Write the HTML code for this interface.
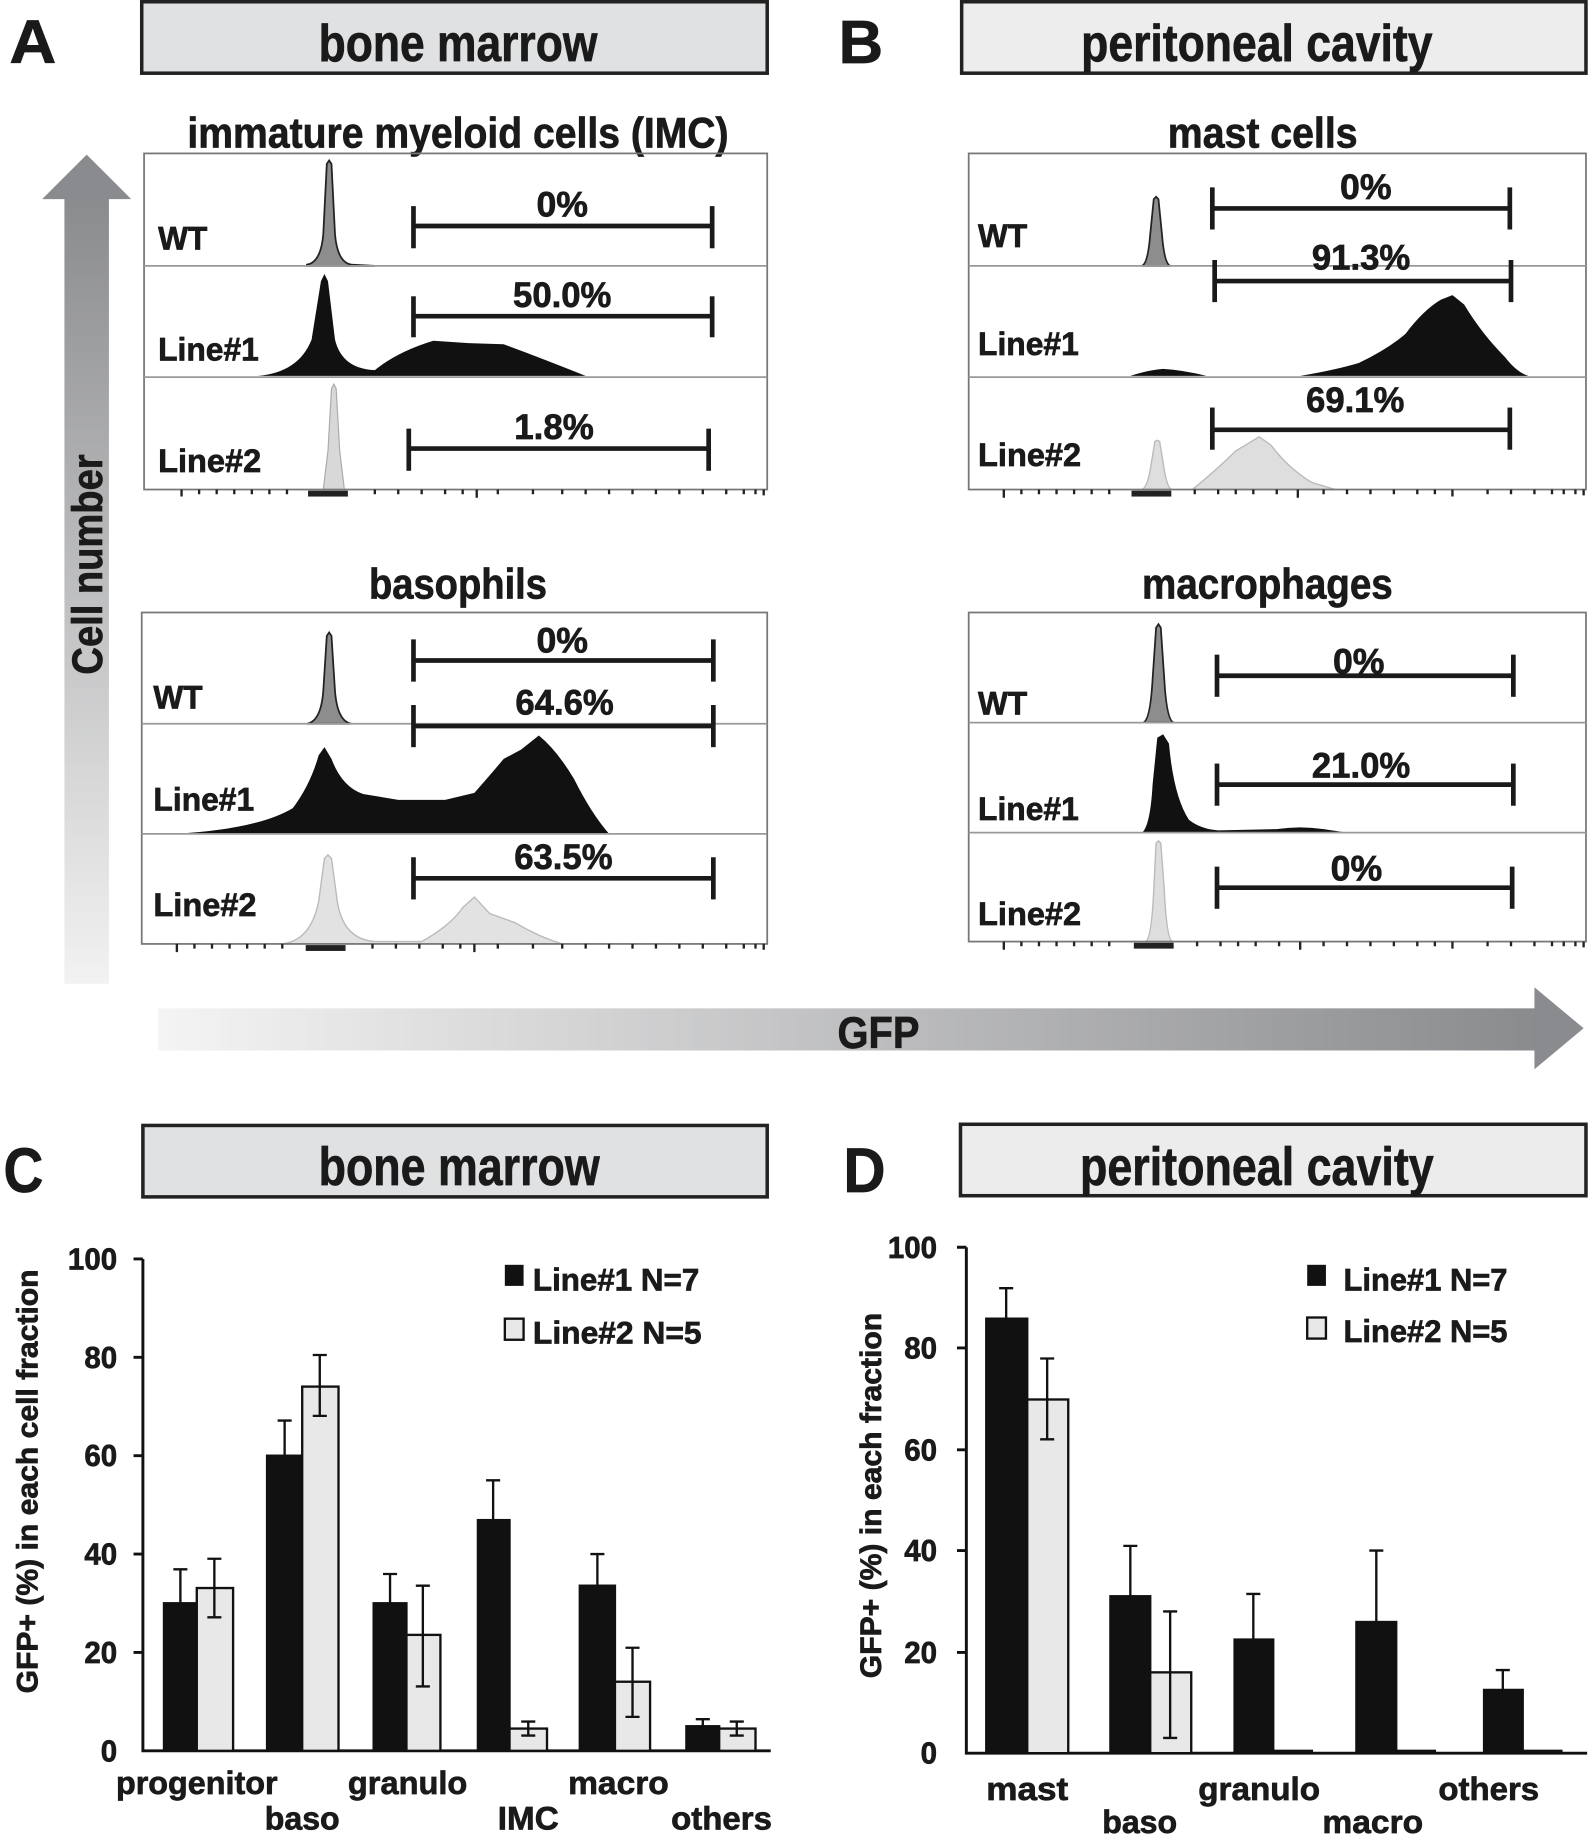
<!DOCTYPE html>
<html><head><meta charset="utf-8"><style>
html,body{margin:0;padding:0;background:#fff;}
svg{display:block;}
text{font-family:"Liberation Sans",Arial,sans-serif;font-weight:bold;fill:#1a1a1a;stroke:#1a1a1a;stroke-width:0.6;}
</style></head><body>
<svg width="1593" height="1841" viewBox="0 0 1360 1572" preserveAspectRatio="none" xmlns="http://www.w3.org/2000/svg">
<defs>
<linearGradient id="gv" x1="0" y1="0" x2="0" y2="1"><stop offset="0" stop-color="#8a8b8e"/><stop offset="1" stop-color="#f2f2f2"/></linearGradient>
<linearGradient id="gh" x1="0" y1="0" x2="1" y2="0"><stop offset="0" stop-color="#f4f4f4"/><stop offset="1" stop-color="#8a8b8e"/></linearGradient>
</defs>
<text x="8" y="54" font-size="52" textLength="40" lengthAdjust="spacingAndGlyphs">A</text>
<rect x="121" y="1.5" width="534" height="61" fill="#e0e1e3" stroke="#222" stroke-width="3"/>
<text x="391" y="52" font-size="44" text-anchor="middle" textLength="238" lengthAdjust="spacingAndGlyphs">bone marrow</text>
<text x="716" y="54" font-size="52" textLength="38" lengthAdjust="spacingAndGlyphs">B</text>
<rect x="821" y="1.5" width="533" height="61" fill="#ededee" stroke="#222" stroke-width="3"/>
<text x="1073" y="52" font-size="44" text-anchor="middle" textLength="300" lengthAdjust="spacingAndGlyphs">peritoneal cavity</text>

<rect x="55" y="168" width="38" height="672" fill="url(#gv)"/>
<polygon points="74,132 112,170 36,170" fill="#8a8b8e"/>
<text transform="translate(87,482) rotate(-90)" font-size="36" text-anchor="middle" textLength="188" lengthAdjust="spacingAndGlyphs">Cell number</text>
<rect x="135" y="861" width="1178" height="36" fill="url(#gh)"/>
<polygon points="1352,878 1310,843 1310,913" fill="#8a8b8e"/>
<text x="750" y="895" font-size="38" text-anchor="middle" textLength="70" lengthAdjust="spacingAndGlyphs">GFP</text>

<!-- IMC -->
<text x="391" y="126" font-size="36" text-anchor="middle" textLength="462" lengthAdjust="spacingAndGlyphs">immature myeloid cells (IMC)</text>
<g>
<path d="M262,226 Q274,224 276,200 L279,140 L281,137 L283,140 L286,200 Q288,224 300,226 L320,227 L262,227Z" fill="#8d8d8d" stroke="#222" stroke-width="1.5"/>
<path d="M220,321 Q255,318 266,290 L274,240 L277,234 L280,240 L286,290 Q292,315 320,316 Q340,300 370,291 L400,293 L430,294 Q460,305 500,321Z" fill="#111"/>
<path d="M276,418 L280,385 L283,332 L285,328 L287,332 L290,385 L294,418Z" fill="#d8d8d8" stroke="#aaa" stroke-width="1"/>
<rect x="123" y="131" width="532" height="287" fill="none" stroke="#777" stroke-width="1.5"/>
<line x1="123" y1="227" x2="655" y2="227" stroke="#999" stroke-width="1.5"/>
<line x1="123" y1="322" x2="655" y2="322" stroke="#999" stroke-width="1.5"/>
<text x="135" y="213" font-size="28" textLength="42" lengthAdjust="spacingAndGlyphs">WT</text>
<text x="135" y="308" font-size="28" textLength="86" lengthAdjust="spacingAndGlyphs">Line#1</text>
<text x="135" y="403" font-size="28" textLength="88" lengthAdjust="spacingAndGlyphs">Line#2</text>
<g stroke="#1a1a1a" stroke-width="4">
<line x1="353" y1="193" x2="608" y2="193"/><line x1="353" y1="176" x2="353" y2="212"/><line x1="608" y1="176" x2="608" y2="212"/>
<line x1="353" y1="270" x2="608" y2="270"/><line x1="353" y1="253" x2="353" y2="288"/><line x1="608" y1="253" x2="608" y2="288"/>
<line x1="349" y1="383" x2="605" y2="383"/><line x1="349" y1="366" x2="349" y2="402"/><line x1="605" y1="366" x2="605" y2="402"/>
</g>
<text x="480" y="185" font-size="30" text-anchor="middle" textLength="44" lengthAdjust="spacingAndGlyphs">0%</text>
<text x="480" y="262" font-size="30" text-anchor="middle" textLength="84" lengthAdjust="spacingAndGlyphs">50.0%</text>
<text x="473" y="375" font-size="30" text-anchor="middle" textLength="68" lengthAdjust="spacingAndGlyphs">1.8%</text>
<path d="M155,418v6M170,418v4M185,418v4M200,418v4M215,418v4M230,418v4M245,418v4M320,418v4M340,418v4M360,418v4M380,418v4M395,418v4M407,418v7M425,418v4M455,418v4M480,418v4M500,418v4M520,418v4M540,418v4M560,418v4M580,418v4M600,418v4M620,418v4M635,418v4M645,418v4M652,418v5" stroke="#222" stroke-width="2" fill="none"/>
<rect x="263" y="419" width="34" height="5" fill="#222"/>
</g>

<!-- basophils -->
<text x="391" y="511" font-size="36" text-anchor="middle" textLength="152" lengthAdjust="spacingAndGlyphs">basophils</text>
<g>
<path d="M262,618 Q274,616 276,590 L279,543 L281,540 L283,543 L286,590 Q288,616 300,618Z" fill="#8d8d8d" stroke="#222" stroke-width="1.5"/>
<path d="M150,712 Q220,708 250,690 Q265,670 272,645 L277,638 L283,648 Q292,672 310,678 L340,683 L380,683 L405,677 Q420,660 430,648 L445,640 L460,628 Q475,640 490,665 Q505,695 520,712Z" fill="#111"/>
<path d="M240,806 Q265,804 272,770 L277,733 L280,730 L283,733 L288,770 Q293,802 320,804 L360,804 Q385,790 395,775 L405,766 L418,780 L440,788 Q460,800 480,806Z" fill="#e2e2e2" stroke="#bbb" stroke-width="1.2"/>
<rect x="121" y="523" width="534" height="283" fill="none" stroke="#777" stroke-width="1.5"/>
<line x1="121" y1="618" x2="655" y2="618" stroke="#999" stroke-width="1.5"/>
<line x1="121" y1="712" x2="655" y2="712" stroke="#999" stroke-width="1.5"/>
<text x="131" y="605" font-size="28" textLength="42" lengthAdjust="spacingAndGlyphs">WT</text>
<text x="131" y="692" font-size="28" textLength="86" lengthAdjust="spacingAndGlyphs">Line#1</text>
<text x="131" y="782" font-size="28" textLength="88" lengthAdjust="spacingAndGlyphs">Line#2</text>
<g stroke="#1a1a1a" stroke-width="4">
<line x1="353" y1="564" x2="609" y2="564"/><line x1="353" y1="546" x2="353" y2="582"/><line x1="609" y1="546" x2="609" y2="582"/>
<line x1="353" y1="620" x2="609" y2="620"/><line x1="353" y1="602" x2="353" y2="638"/><line x1="609" y1="602" x2="609" y2="638"/>
<line x1="353" y1="750" x2="609" y2="750"/><line x1="353" y1="732" x2="353" y2="768"/><line x1="609" y1="732" x2="609" y2="768"/>
</g>
<text x="480" y="557" font-size="30" text-anchor="middle" textLength="44" lengthAdjust="spacingAndGlyphs">0%</text>
<text x="482" y="610" font-size="30" text-anchor="middle" textLength="84" lengthAdjust="spacingAndGlyphs">64.6%</text>
<text x="481" y="742" font-size="30" text-anchor="middle" textLength="84" lengthAdjust="spacingAndGlyphs">63.5%</text>
<path d="M151,806v7M166,806v4M181,806v4M196,806v4M211,806v4M226,806v4M241,806v4M318,806v4M338,806v4M358,806v4M378,806v4M393,806v4M405,806v7M425,806v4M455,806v4M480,806v4M500,806v4M520,806v4M540,806v4M560,806v4M580,806v4M600,806v4M620,806v4M635,806v4M645,806v4M652,806v5" stroke="#222" stroke-width="2" fill="none"/>
<rect x="261" y="807" width="34" height="5" fill="#222"/>
</g>

<!-- mast cells -->
<text x="1078" y="126" font-size="36" text-anchor="middle" textLength="162" lengthAdjust="spacingAndGlyphs">mast cells</text>
<g>
<path d="M975,227 Q980,225 982,200 L985,170 L987,168 L989,170 L992,200 Q994,225 999,227Z" fill="#8d8d8d" stroke="#222" stroke-width="1.5"/>
<path d="M965,321 Q980,316 993,315 Q1010,316 1030,321Z M1110,321 Q1140,316 1160,310 Q1185,298 1200,285 Q1215,265 1230,256 L1240,252 L1250,260 Q1265,285 1285,305 Q1295,318 1305,321Z" fill="#111"/>
<path d="M975,418 Q980,416 983,395 L986,377 L988,376 L990,377 L993,395 Q996,416 1000,418Z M1018,418 Q1040,400 1055,385 L1075,373 L1085,380 Q1100,400 1120,412 L1140,418Z" fill="#dedede" stroke="#bbb" stroke-width="1.2"/>
<rect x="827" y="131" width="527" height="287" fill="none" stroke="#777" stroke-width="1.5"/>
<line x1="827" y1="227" x2="1354" y2="227" stroke="#999" stroke-width="1.5"/>
<line x1="827" y1="322" x2="1354" y2="322" stroke="#999" stroke-width="1.5"/>
<text x="835" y="211" font-size="28" textLength="42" lengthAdjust="spacingAndGlyphs">WT</text>
<text x="835" y="303" font-size="28" textLength="86" lengthAdjust="spacingAndGlyphs">Line#1</text>
<text x="835" y="398" font-size="28" textLength="88" lengthAdjust="spacingAndGlyphs">Line#2</text>
<g stroke="#1a1a1a" stroke-width="4">
<line x1="1035" y1="178" x2="1289" y2="178"/><line x1="1035" y1="160" x2="1035" y2="196"/><line x1="1289" y1="160" x2="1289" y2="196"/>
<line x1="1037" y1="240" x2="1290" y2="240"/><line x1="1037" y1="222" x2="1037" y2="258"/><line x1="1290" y1="222" x2="1290" y2="258"/>
<line x1="1035" y1="367" x2="1289" y2="367"/><line x1="1035" y1="348" x2="1035" y2="384"/><line x1="1289" y1="348" x2="1289" y2="384"/>
</g>
<text x="1166" y="170" font-size="30" text-anchor="middle" textLength="44" lengthAdjust="spacingAndGlyphs">0%</text>
<text x="1162" y="230" font-size="30" text-anchor="middle" textLength="84" lengthAdjust="spacingAndGlyphs">91.3%</text>
<text x="1157" y="352" font-size="30" text-anchor="middle" textLength="84" lengthAdjust="spacingAndGlyphs">69.1%</text>
<path d="M857,418v7M872,418v4M887,418v4M902,418v4M917,418v4M932,418v4M947,418v4M1020,418v4M1040,418v4M1055,418v4M1070,418v4M1090,418v4M1108,418v7M1130,418v4M1150,418v4M1170,418v4M1190,418v4M1210,418v4M1225,418v4M1240,418v6M1270,418v4M1290,418v4M1310,418v4M1325,418v4M1335,418v4M1345,418v4M1352,418v5" stroke="#222" stroke-width="2" fill="none"/>
<rect x="966" y="419" width="34" height="5" fill="#222"/>
</g>

<!-- macrophages -->
<text x="1082" y="511" font-size="36" text-anchor="middle" textLength="214" lengthAdjust="spacingAndGlyphs">macrophages</text>
<g>
<path d="M976,617 Q982,615 984,580 L987,536 L989,533 L991,536 L994,580 Q996,615 1002,617Z" fill="#8d8d8d" stroke="#222" stroke-width="1.5"/>
<path d="M975,711 Q982,705 984,670 L988,630 L993,627 L998,635 Q1002,680 1015,700 Q1025,708 1040,709 L1090,708 Q1110,705 1130,708 L1150,711Z" fill="#111"/>
<path d="M978,804 Q983,802 985,760 L987,720 L989,718 L991,720 L994,760 Q996,802 1001,804Z" fill="#dedede" stroke="#bbb" stroke-width="1.2"/>
<rect x="827" y="523" width="527" height="281" fill="none" stroke="#777" stroke-width="1.5"/>
<line x1="827" y1="617" x2="1354" y2="617" stroke="#999" stroke-width="1.5"/>
<line x1="827" y1="711" x2="1354" y2="711" stroke="#999" stroke-width="1.5"/>
<text x="835" y="610" font-size="28" textLength="42" lengthAdjust="spacingAndGlyphs">WT</text>
<text x="835" y="700" font-size="28" textLength="86" lengthAdjust="spacingAndGlyphs">Line#1</text>
<text x="835" y="790" font-size="28" textLength="88" lengthAdjust="spacingAndGlyphs">Line#2</text>
<g stroke="#1a1a1a" stroke-width="4">
<line x1="1039" y1="577" x2="1292" y2="577"/><line x1="1039" y1="559" x2="1039" y2="595"/><line x1="1292" y1="559" x2="1292" y2="595"/>
<line x1="1039" y1="670" x2="1292" y2="670"/><line x1="1039" y1="652" x2="1039" y2="688"/><line x1="1292" y1="652" x2="1292" y2="688"/>
<line x1="1039" y1="758" x2="1291" y2="758"/><line x1="1039" y1="740" x2="1039" y2="776"/><line x1="1291" y1="740" x2="1291" y2="776"/>
</g>
<text x="1160" y="575" font-size="30" text-anchor="middle" textLength="44" lengthAdjust="spacingAndGlyphs">0%</text>
<text x="1162" y="664" font-size="30" text-anchor="middle" textLength="84" lengthAdjust="spacingAndGlyphs">21.0%</text>
<text x="1158" y="752" font-size="30" text-anchor="middle" textLength="44" lengthAdjust="spacingAndGlyphs">0%</text>
<path d="M857,804v7M872,804v4M887,804v4M902,804v4M917,804v4M932,804v4M947,804v4M1022,804v4M1042,804v4M1057,804v4M1072,804v4M1092,804v4M1110,804v7M1130,804v4M1150,804v4M1170,804v4M1190,804v4M1210,804v4M1225,804v4M1240,804v6M1270,804v4M1290,804v4M1310,804v4M1325,804v4M1335,804v4M1345,804v4M1352,804v5" stroke="#222" stroke-width="2" fill="none"/>
<rect x="968" y="805" width="34" height="5" fill="#222"/>
</g>

<!-- C -->
<text x="3" y="1018" font-size="54" textLength="34" lengthAdjust="spacingAndGlyphs">C</text>
<rect x="122" y="961" width="533" height="61" fill="#e0e1e3" stroke="#222" stroke-width="3"/>
<text x="392" y="1012" font-size="46" text-anchor="middle" textLength="240" lengthAdjust="spacingAndGlyphs">bone marrow</text>
<g font-size="26">
<text x="100" y="1084" text-anchor="end" textLength="42" lengthAdjust="spacingAndGlyphs">100</text>
<text x="100" y="1168" text-anchor="end" textLength="28" lengthAdjust="spacingAndGlyphs">80</text>
<text x="100" y="1252" text-anchor="end" textLength="28" lengthAdjust="spacingAndGlyphs">60</text>
<text x="100" y="1336" text-anchor="end" textLength="28" lengthAdjust="spacingAndGlyphs">40</text>
<text x="100" y="1420" text-anchor="end" textLength="28" lengthAdjust="spacingAndGlyphs">20</text>
<text x="100" y="1504" text-anchor="end" textLength="14" lengthAdjust="spacingAndGlyphs">0</text>
</g>
<g stroke="#111" stroke-width="2.5" fill="none">
<path d="M122,1075V1495H658M114,1075h8M114,1159h8M114,1243h8M114,1327h8M114,1411h8"/>
</g>
<text transform="translate(32,1265) rotate(-90)" font-size="25" text-anchor="middle" textLength="362" lengthAdjust="spacingAndGlyphs">GFP+ (%) in each cell fraction</text>
<g stroke="#111" stroke-width="2">
<rect x="140" y="1369" width="28" height="126" fill="#111"/>
<rect x="168" y="1356" width="31" height="139" fill="#e8e8e8"/>
<rect x="228" y="1243" width="30" height="252" fill="#111"/>
<rect x="258" y="1184" width="31" height="311" fill="#e8e8e8"/>
<rect x="319" y="1369" width="28" height="126" fill="#111"/>
<rect x="347" y="1396" width="29" height="99" fill="#e8e8e8"/>
<rect x="408" y="1298" width="27" height="197" fill="#111"/>
<rect x="435" y="1476" width="32" height="19" fill="#e8e8e8"/>
<rect x="495" y="1354" width="30" height="141" fill="#111"/>
<rect x="525" y="1436" width="30" height="59" fill="#e8e8e8"/>
<rect x="586" y="1474" width="28" height="21" fill="#111"/>
<rect x="614" y="1476" width="31" height="19" fill="#e8e8e8"/>
<path d="M154,1369V1340M148,1340h12 M183,1356V1331M177,1331h12M183,1356V1381M177,1381h12 M243,1243V1213M237,1213h12 M273,1184V1157M267,1157h12M273,1184V1209M267,1209h12 M333,1369V1344M327,1344h12 M361,1396V1354M355,1354h12M361,1396V1440M355,1440h12 M421,1298V1264M415,1264h12 M451,1476V1470M445,1470h12M451,1476V1482M445,1482h12 M510,1354V1327M504,1327h12 M540,1436V1407M534,1407h12M540,1436V1466M534,1466h12 M600,1474V1468M594,1468h12 M629,1476V1470M623,1470h12M629,1476V1482M623,1482h12" fill="none"/>
</g>
<rect x="431" y="1080" width="16" height="18" fill="#111"/>
<rect x="431" y="1126" width="16" height="18" fill="#e8e8e8" stroke="#111" stroke-width="2"/>
<text x="455" y="1102" font-size="27" textLength="142" lengthAdjust="spacingAndGlyphs">Line#1  N=7</text>
<text x="455" y="1147" font-size="27" textLength="144" lengthAdjust="spacingAndGlyphs">Line#2  N=5</text>
<g font-size="28" text-anchor="middle">
<text x="168" y="1532" textLength="138" lengthAdjust="spacingAndGlyphs">progenitor</text>
<text x="258" y="1562" textLength="64" lengthAdjust="spacingAndGlyphs">baso</text>
<text x="348" y="1532" textLength="102" lengthAdjust="spacingAndGlyphs">granulo</text>
<text x="451" y="1562" textLength="52" lengthAdjust="spacingAndGlyphs">IMC</text>
<text x="528" y="1532" textLength="86" lengthAdjust="spacingAndGlyphs">macro</text>
<text x="616" y="1562" textLength="86" lengthAdjust="spacingAndGlyphs">others</text>
</g>

<!-- D -->
<text x="720" y="1018" font-size="54" textLength="36" lengthAdjust="spacingAndGlyphs">D</text>
<rect x="820" y="960" width="534" height="61" fill="#ececed" stroke="#222" stroke-width="3"/>
<text x="1073" y="1012" font-size="46" text-anchor="middle" textLength="302" lengthAdjust="spacingAndGlyphs">peritoneal cavity</text>
<g font-size="26">
<text x="800" y="1074" text-anchor="end" textLength="42" lengthAdjust="spacingAndGlyphs">100</text>
<text x="800" y="1160" text-anchor="end" textLength="28" lengthAdjust="spacingAndGlyphs">80</text>
<text x="800" y="1247" text-anchor="end" textLength="28" lengthAdjust="spacingAndGlyphs">60</text>
<text x="800" y="1333" text-anchor="end" textLength="28" lengthAdjust="spacingAndGlyphs">40</text>
<text x="800" y="1420" text-anchor="end" textLength="28" lengthAdjust="spacingAndGlyphs">20</text>
<text x="800" y="1506" text-anchor="end" textLength="14" lengthAdjust="spacingAndGlyphs">0</text>
</g>
<g stroke="#111" stroke-width="2.5" fill="none">
<path d="M825,1065V1497H1355M817,1065h8M817,1151h8M817,1238h8M817,1324h8M817,1411h8"/>
</g>
<text transform="translate(752,1277) rotate(-90)" font-size="25" text-anchor="middle" textLength="312" lengthAdjust="spacingAndGlyphs">GFP+ (%) in each fraction</text>
<g stroke="#111" stroke-width="2">
<rect x="842" y="1126" width="35" height="371" fill="#111"/>
<rect x="877" y="1195" width="35" height="302" fill="#e8e8e8"/>
<rect x="948" y="1363" width="34" height="134" fill="#111"/>
<rect x="982" y="1428" width="35" height="69" fill="#e8e8e8"/>
<rect x="1054" y="1400" width="33" height="97" fill="#111"/>
<rect x="1087" y="1495" width="33" height="2" fill="#111"/>
<rect x="1158" y="1385" width="34" height="112" fill="#111"/>
<rect x="1192" y="1495" width="33" height="2" fill="#111"/>
<rect x="1267" y="1443" width="33" height="54" fill="#111"/>
<rect x="1300" y="1495" width="33" height="2" fill="#111"/>
<path d="M859,1126V1100M853,1100h12 M894,1195V1160M888,1160h12M894,1195V1229M888,1229h12 M965,1363V1320M959,1320h12 M999,1428V1376M993,1376h12M999,1428V1484M993,1484h12 M1070,1400V1361M1064,1361h12 M1175,1385V1324M1169,1324h12 M1283,1443V1426M1277,1426h12" fill="none"/>
</g>
<rect x="1116" y="1080" width="16" height="18" fill="#111"/>
<rect x="1116" y="1125" width="16" height="18" fill="#e8e8e8" stroke="#111" stroke-width="2"/>
<text x="1147" y="1102" font-size="27" textLength="140" lengthAdjust="spacingAndGlyphs">Line#1 N=7</text>
<text x="1147" y="1146" font-size="27" textLength="140" lengthAdjust="spacingAndGlyphs">Line#2 N=5</text>
<g font-size="28" text-anchor="middle">
<text x="877" y="1537" textLength="70" lengthAdjust="spacingAndGlyphs">mast</text>
<text x="973" y="1565" textLength="64" lengthAdjust="spacingAndGlyphs">baso</text>
<text x="1075" y="1537" textLength="104" lengthAdjust="spacingAndGlyphs">granulo</text>
<text x="1172" y="1565" textLength="86" lengthAdjust="spacingAndGlyphs">macro</text>
<text x="1271" y="1537" textLength="86" lengthAdjust="spacingAndGlyphs">others</text>
</g>
</svg>
</body></html>
